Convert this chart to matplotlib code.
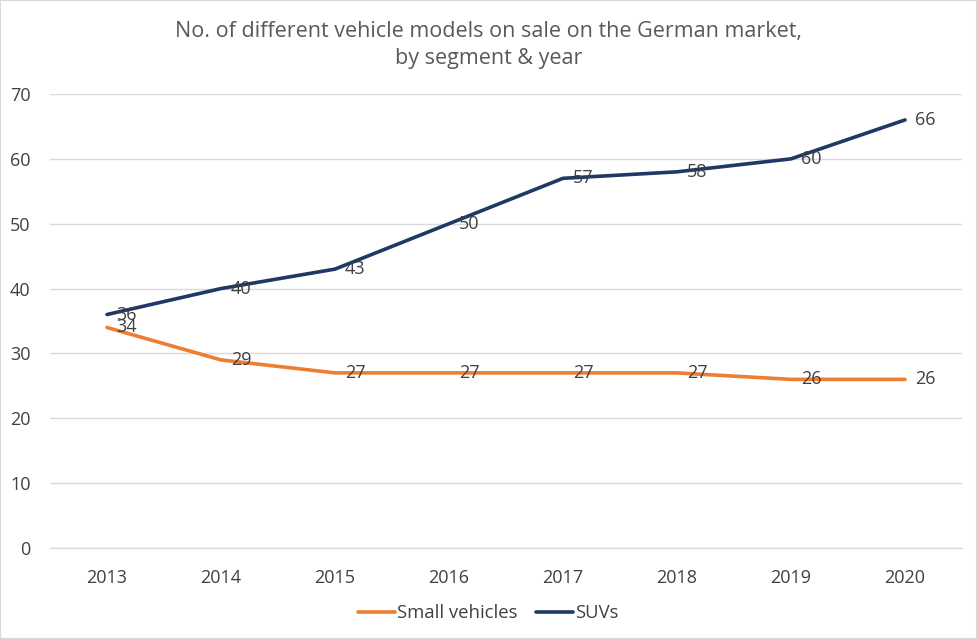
import matplotlib.pyplot as plt

plt.rcParams['font.family'] = ['Open Sans', 'DejaVu Sans']

years = ['2013', '2014', '2015', '2016', '2017', '2018', '2019', '2020']
small_vehicles = [34, 29, 27, 27, 27, 27, 26, 26]
suvs = [36, 40, 43, 50, 57, 58, 60, 66]
y_ticks = [0, 10, 20, 30, 40, 50, 60, 70]

text_col = '#404040'


def plt_data():
    fig = plt.figure(figsize=(9.77, 6.39), dpi=100)
    ax = fig.add_axes([50 / 977, 1 - 548 / 639, 912 / 977, 454 / 639])
    x = list(range(len(years)))

    ax.plot(x, small_vehicles, color='#ED7D31', lw=2.6, label='Small vehicles',
            solid_capstyle='round', zorder=3)
    ax.plot(x, suvs, color='#203864', lw=2.6, label='SUVs',
            solid_capstyle='round', zorder=3)

    for series in [small_vehicles, suvs]:
        for i, v in enumerate(series):
            ax.annotate(str(v), (i, v), xytext=(7, 0), textcoords='offset points',
                        va='center', ha='left', fontsize=13, color=text_col, zorder=4)

    ax.set_xlim(-0.5, len(years) - 0.5)
    ax.set_ylim(0, 70)
    ax.set_yticks(y_ticks)
    ax.set_xticks(x)
    ax.set_xticklabels(years)
    ax.grid(True, axis='y', color='#D9D9D9', lw=1)
    ax.set_axisbelow(True)
    for s in ['top', 'right', 'left']:
        ax.spines[s].set_visible(False)
    ax.spines['bottom'].set_color('#D9D9D9')
    ax.tick_params(length=0, labelsize=13, labelcolor=text_col)
    ax.tick_params(axis='x', pad=15)
    ax.tick_params(axis='y', pad=14)

    fig.text(0.5, 1 - 45 / 639, 'No. of different vehicle models on sale on the German market,\nby segment & year',
             ha='center', va='center', fontsize=15.5, color='#595959', linespacing=1.35)

    fig.legend(loc='center', bbox_to_anchor=(0.5, 1 - 613 / 639), ncol=2, frameon=False,
               fontsize=13.3, labelcolor=text_col, handlelength=2.0, handletextpad=0.1,
               columnspacing=1.0)

    fig.patches.append(plt.Rectangle((0, 0), 1, 1, transform=fig.transFigure,
                                     fill=False, edgecolor='#D9D9D9', lw=1.5))
    fig.savefig('out.png', dpi=100)


def main():
    plt_data()


if __name__ == '__main__':
    main()
